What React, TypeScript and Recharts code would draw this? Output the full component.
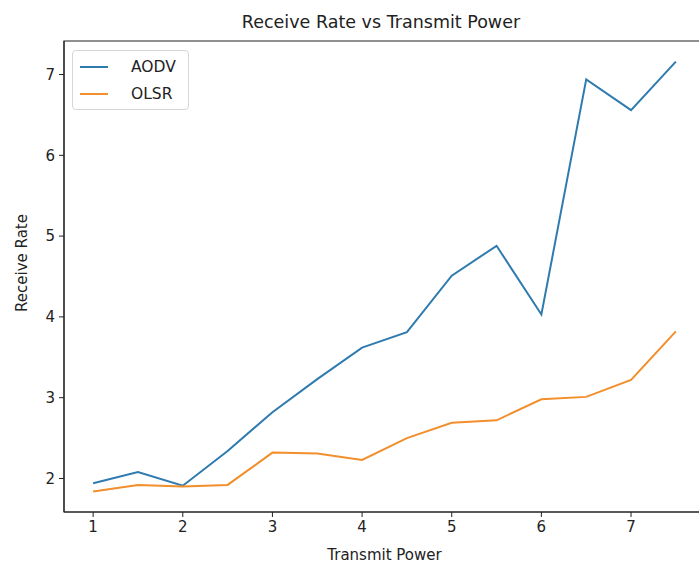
import { LineChart, Line, XAxis, YAxis, Legend, ReferenceArea } from 'recharts';

const transmitPower = [1, 1.5, 2, 2.5, 3, 3.5, 4, 4.5, 5, 5.5, 6, 6.5, 7, 7.5];
const aodvRate = [1.94, 2.08, 1.91, 2.34, 2.82, 3.23, 3.62, 3.81, 4.51, 4.88, 4.03, 6.94, 6.56, 7.16];
const olsrRate = [1.84, 1.92, 1.9, 1.92, 2.32, 2.31, 2.23, 2.5, 2.69, 2.72, 2.98, 3.01, 3.22, 3.82];
const xTicks = [1, 2, 3, 4, 5, 6, 7];
const yTicks = [2, 3, 4, 5, 6, 7];

const X_DOMAIN: [number, number] = [0.675, 7.825];
const Y_DOMAIN: [number, number] = [1.585, 7.415];

const BLUE = '#2f7bb0';
const ORANGE = '#f28e2b';
const FONT = '"DejaVu Sans", sans-serif';

const data = transmitPower.map((x, i) => ({ x, aodv: aodvRate[i], olsr: olsrRate[i] }));

function LegendBox() {
  const items = [
    { name: 'AODV', color: BLUE },
    { name: 'OLSR', color: ORANGE },
  ];
  return (
    <div
      style={{
        border: '1px solid #d6d6d6',
        borderRadius: 4,
        background: 'rgba(255,255,255,0.8)',
        padding: '2px 12px 2px 7px',
        fontFamily: FONT,
        fontSize: 15.5,
        color: '#222',
        width: 'max-content',
      }}
    >
      {items.map((it) => (
        <div key={it.name} style={{ display: 'flex', alignItems: 'center', height: 27 }}>
          <span style={{ display: 'inline-block', width: 28, height: 2, background: it.color, marginRight: 23 }} />
          {it.name}
        </div>
      ))}
    </div>
  );
}

// rotated y-axis title, a bit above the plot centre as in the source figure
function YTitle() {
  return (
    <text x={22} y={263} transform="rotate(-90, 22, 263)" textAnchor="middle" dominantBaseline="central" fill="#222" fontSize={15} fontFamily={FONT}>
      Receive Rate
    </text>
  );
}

export default function App() {
  return (
    <div style={{ position: 'absolute', left: 0, top: 0, width: 699, height: 563, overflow: 'hidden', background: '#fff' }}>
      <div
        style={{
          position: 'absolute',
          left: 64,
          width: 634,
          top: 12,
          textAlign: 'center',
          fontFamily: FONT,
          fontSize: 17.5,
          color: '#222',
        }}
      >
        Receive Rate vs Transmit Power
      </div>
      <LineChart width={710} height={563} data={data} margin={{ top: 41, right: 5, bottom: 0, left: 0 }}>
        <XAxis
          dataKey="x"
          type="number"
          domain={X_DOMAIN}
          ticks={xTicks}
          allowDataOverflow
          height={51}
          tickSize={5}
          tickMargin={4}
          stroke="#222"
          tick={{ fill: '#222', fontSize: 15, fontFamily: FONT }}
          label={{ value: 'Transmit Power', position: 'insideBottom', offset: 3, fill: '#222', fontSize: 15, fontFamily: FONT }}
        />
        <YAxis
          type="number"
          domain={Y_DOMAIN}
          ticks={yTicks}
          allowDataOverflow
          width={64}
          tickSize={5}
          tickMargin={4}
          stroke="#222"
          tick={{ fill: '#222', fontSize: 15, fontFamily: FONT }}
          label={<YTitle />}
        />
        <ReferenceArea
          x1={X_DOMAIN[0]}
          x2={X_DOMAIN[1]}
          y1={Y_DOMAIN[0]}
          y2={Y_DOMAIN[1]}
          fill="none"
          stroke="#222"
          strokeWidth={1.2}
          ifOverflow="visible"
        />
        <Legend
          layout="vertical"
          verticalAlign="middle"
          align="center"
          content={<LegendBox />}
          wrapperStyle={{ top: 50, left: 72, width: 'auto' }}
        />
        <Line type="linear" dataKey="aodv" stroke={BLUE} strokeWidth={2} dot={false} isAnimationActive={false} />
        <Line type="linear" dataKey="olsr" stroke={ORANGE} strokeWidth={2} dot={false} isAnimationActive={false} />
      </LineChart>
    </div>
  );
}
